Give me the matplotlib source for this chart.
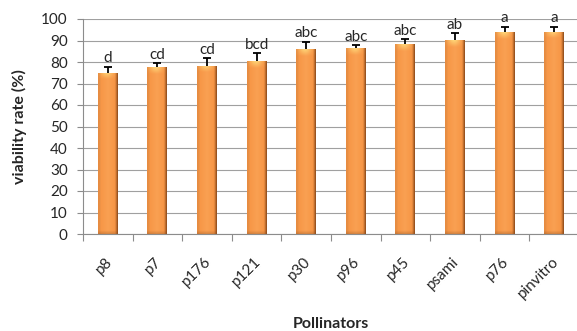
import numpy as np
import matplotlib
matplotlib.use("Agg")
import matplotlib.pyplot as plt
from matplotlib.colors import to_rgb

# Pollen viability per pollinator, with standard errors and significance groups
pollinators = ["p8", "p7", "p176", "p121", "p30", "p96", "p45", "psami", "p76", "pinvitro"]
viability = [75.0, 77.5, 78.3, 80.3, 86.0, 86.5, 88.2, 90.1, 93.8, 94.1]
std_err = [2.8, 1.9, 3.4, 3.7, 3.5, 1.4, 2.5, 3.4, 2.6, 2.3]
groups = ["d", "cd", "cd", "bcd", "abc", "abc", "abc", "ab", "a", "a"]
yticks = list(range(0, 101, 10))

plt.rcParams["font.family"] = ["Lato", "DejaVu Sans"]

W, H = 577, 331
fig = plt.figure(figsize=(W / 100, H / 100), dpi=100)
ax = fig.add_axes([83 / W, 1 - 234 / H, (579 - 83) / W, (234 - 19) / H])

x = np.arange(len(pollinators))
bar_w = 0.4
bars = ax.bar(x, viability, width=bar_w, color="#F79646", edgecolor="none", zorder=2)

# shaded fill for each bar: darker edges, lighter centre, warm highlight at the top
base = np.array(to_rgb("#F79646"))
dark = np.array([0.55, 0.29, 0.10])
light = np.array([0.99, 0.68, 0.38])
hl = np.array([1.0, 0.88, 0.50])
ncol, nrow = 40, 200
u = np.linspace(0, 1, ncol)
prof = np.empty((ncol, 3))
for i, t in enumerate(u):
    if t < 0.12:
        c = 0.85 * base + 0.15 * dark + (light - base) * (t / 0.12) * 0.3
    elif t < 0.5:
        c = base + (light - base) * (t - 0.12) / 0.38 * 0.45
    elif t < 0.85:
        c = base + (light - base) * 0.45 * (1 - (t - 0.5) / 0.35)
    else:
        c = base + (dark - base) * ((t - 0.85) / 0.15) ** 1.2
    prof[i] = c
for rect, v in zip(bars, viability):
    xs = rect.get_x()
    rows = np.linspace(v, 0, nrow)
    img = np.tile(prof[None, :, :], (nrow, 1, 1))
    top_w = np.clip(1 - (v - rows) / 3.0, 0, 1)[:, None, None]
    cent = np.exp(-((u - 0.45) / 0.3) ** 2)[None, :, None]
    img = img * (1 - 0.8 * top_w * cent) + hl * 0.8 * top_w * cent
    bot_w = np.clip(1 - rows / 1.5, 0, 1)[:, None, None]
    img = img * (1 - 0.3 * bot_w) + dark * 0.3 * bot_w
    im = ax.imshow(np.clip(img, 0, 1), extent=(xs, xs + bar_w, 0, v),
                   aspect="auto", zorder=2.5, interpolation="bilinear")
    im.set_clip_path(rect)

# upper error bars only
eb = ax.errorbar(x, viability, yerr=[np.zeros(len(x)), std_err], fmt="none",
                 ecolor="black", elinewidth=1.3, capsize=2.8, capthick=1.3, zorder=3)
caps = eb[1]
if len(caps) == 2:
    caps[0].set_visible(False)

for xi, v, e, g in zip(x, viability, std_err, groups):
    ax.text(xi, v + e + 0.6, g, ha="center", va="bottom", fontsize=11,
            color="#262626", zorder=4)

ax.set_xlim(-0.5, len(pollinators) - 0.5)
ax.set_ylim(0, 100)
ax.set_yticks(yticks)
ax.set_yticklabels([str(t) for t in yticks], fontsize=11, color="#262626")
ax.yaxis.grid(True, color="#a0a0a0", linewidth=0.8, zorder=0)
ax.set_axisbelow(True)
ax.tick_params(axis="y", length=4, width=0.8, color="#8c8c8c", pad=7)

ax.set_xticks(np.arange(len(pollinators) + 1) - 0.5)
ax.set_xticklabels([])
ax.tick_params(axis="x", length=5, width=0.8, color="#8c8c8c", direction="out")
for xi, lab in zip(x, pollinators):
    ax.text(xi + 0.04, -11.8, lab, rotation=45, rotation_mode="anchor",
            ha="right", va="center", fontsize=11, color="#262626",
            transform=ax.transData, clip_on=False)

for s in ["top", "right"]:
    ax.spines[s].set_visible(False)
for s in ["left", "bottom"]:
    ax.spines[s].set_color("#8c8c8c")
    ax.spines[s].set_linewidth(0.8)

fig.text(19 / W, 1 - 127 / H, "viability rate (%)", rotation=90, ha="center",
         va="center", fontsize=11.5, fontweight="bold", color="#262626")
fig.text(331 / W, 1 - 324 / H, "Pollinators", ha="center", va="center",
         fontsize=11.5, fontweight="bold", color="#262626")

fig.savefig("out.png", dpi=100, facecolor="white")
